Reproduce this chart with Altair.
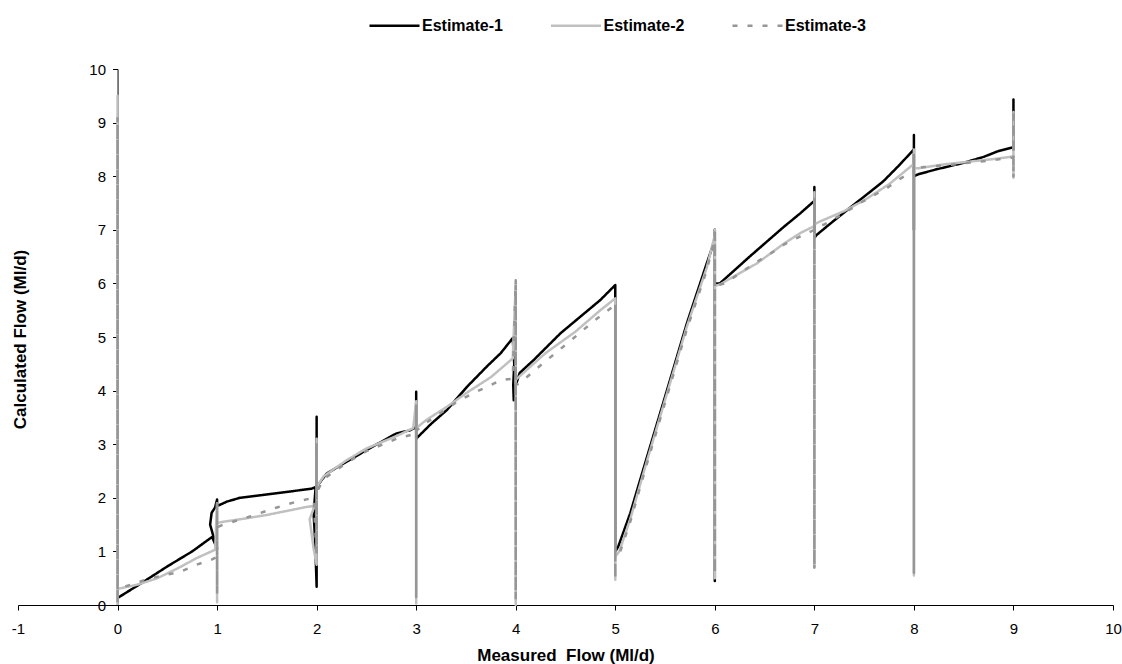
import altair as alt
import pandas as pd

series_names = ["Estimate-1", "Estimate-2", "Estimate-3"]
series_colors = ["#000000", "#c0c0c0", "#969696"]
series_dashes = [[1, 0], [1, 0], [5, 10]]

x_ticks = list(range(-1, 11))
y_ticks = list(range(0, 11))

e1_x = [0, 0.25, 0.5, 0.75, 0.95, 1.0, 0.96, 0.93, 0.945, 0.98, 1.0, 1.0, 1.03,
        1.1, 1.23, 1.45, 1.7, 1.95, 1.99, 1.97, 1.985, 2.0, 2.0, 2.0,
        2.05, 2.1, 2.27, 2.5, 2.8, 2.94, 3.0, 3.0, 3.0,
        3.02, 3.15, 3.31, 3.51, 3.71, 3.85, 3.97, 3.985, 3.975, 3.98, 4.0,
        4.04, 4.18, 4.45, 4.65, 4.85, 5.0, 5.0,
        5.03, 5.15, 5.32, 5.52, 5.72, 5.92, 6.0, 6.0, 6.0, 6.0,
        6.05, 6.35, 6.69, 6.86, 7.0, 7.0, 7.0,
        7.02, 7.15, 7.33, 7.5, 7.69, 7.85, 8.0, 8.0, 8.0, 8.0,
        8.05, 8.23, 8.5, 8.7, 8.85, 9.0, 9.0, 9.0, 9.0]
e1_y = [0.13, 0.42, 0.72, 1.0, 1.27, 1.05, 1.3, 1.5, 1.72, 1.82, 1.97, 1.85, 1.87,
        1.93, 2.0, 2.05, 2.11, 2.17, 2.2, 1.7, 1.2, 0.34, 3.51, 2.2,
        2.33, 2.45, 2.64, 2.89, 3.2, 3.26, 3.32, 3.98, 3.1,
        3.14, 3.38, 3.64, 4.07, 4.45, 4.7, 4.98, 4.5, 4.1, 3.82, 4.1,
        4.33, 4.57, 5.07, 5.38, 5.69, 5.97, 1.0,
        1.09, 1.71, 2.77, 4.01, 5.26, 6.38, 6.81, 7.0, 0.45, 6.0,
        6.0, 6.5, 7.05, 7.31, 7.54, 7.8, 6.85,
        6.9, 7.1, 7.37, 7.62, 7.9, 8.2, 8.5, 8.77, 7.0, 8.0,
        8.04, 8.13, 8.25, 8.36, 8.47, 8.54, 9.43, 8.5, 9.3]

e2_x = [0, 0, 0, 0.2, 0.4, 0.6, 0.8, 0.98, 1.0, 1.0, 1.0,
        1.05, 1.2, 1.5, 1.9, 1.98, 1.93, 1.97, 2.0, 2.0, 2.0,
        2.07, 2.3, 2.5, 2.8, 2.97, 3.0, 3.0, 3.0,
        3.1, 3.31, 3.5, 3.75, 3.97, 4.0, 4.0, 4.0,
        4.04, 4.3, 4.6, 4.85, 5.0, 5.0, 5.0, 5.0,
        5.04, 5.15, 5.32, 5.52, 5.72, 5.92, 6.0, 6.0, 6.0, 6.0,
        6.05, 6.42, 6.7, 6.86, 7.0, 7.0, 7.0, 7.0,
        7.05, 7.3, 7.5, 7.75, 8.0, 8.0, 8.0, 8.0,
        8.05, 8.3, 8.6, 8.85, 9.0, 9.0, 9.0, 9.0]
e2_y = [0.0, 9.5, 0.3, 0.38, 0.5, 0.68, 0.88, 1.03, 1.9, 0.05, 1.53,
        1.55, 1.59, 1.68, 1.83, 1.85, 1.6, 1.05, 0.75, 3.1, 2.2,
        2.4, 2.7, 2.92, 3.15, 3.3, 3.8, 0.03, 3.3,
        3.45, 3.7, 3.95, 4.25, 4.6, 6.0, 0.0, 4.2,
        4.27, 4.7, 5.1, 5.5, 5.72, 0.47, 5.6, 0.9,
        1.0, 1.6, 2.7, 3.95, 5.2, 6.3, 6.9, 7.0, 0.5, 5.95,
        5.98, 6.37, 6.75, 6.94, 7.07, 7.7, 0.7, 7.1,
        7.15, 7.35, 7.55, 7.85, 8.23, 8.5, 0.55, 8.15,
        8.15, 8.22, 8.28, 8.33, 8.37, 9.2, 7.97, 8.4]

e3_x = [0, 0, 0, 0, 0, 0, 0, 0, 0,
        0.2, 0.33, 0.63, 0.79, 0.95,
        1, 1, 1, 1, 1, 1, 1, 1,
        1.05, 1.33, 1.6, 1.8, 1.97,
        2, 2, 2, 2, 2, 2, 2,
        2.07, 2.3, 2.5, 2.8,
        3, 3, 3, 3, 3, 3, 3, 3,
        3.1, 3.41, 3.57, 3.71, 3.86, 3.97,
        4, 4, 4, 4, 4, 4, 4,
        4.04, 4.3, 4.55, 4.78,
        5, 5, 5, 5, 5, 5, 5, 5,
        5.05, 5.15, 5.32, 5.52, 5.72, 5.92,
        6, 6, 6, 6, 6, 6, 6, 6,
        6.1, 6.42, 6.57, 6.7, 6.85,
        7, 7, 7, 7, 7, 7, 7, 7,
        7.1, 7.29, 7.46, 7.73, 7.86,
        8, 8, 8, 8, 8, 8, 8, 8,
        8.1, 8.4, 8.7,
        9, 9, 9, 9, 9, 9]
e3_y = [0.05, 9.1, 0.15, 8.9, 0.1, 9.0, 0.2, 8.95, 0.3,
        0.42, 0.5, 0.62, 0.75, 0.85,
        0.9, 0.2, 1.9, 0.25, 1.85, 0.22, 1.88, 1.45,
        1.49, 1.65, 1.82, 1.93, 2.0,
        0.9, 3.0, 1.0, 2.95, 0.95, 2.98, 2.1,
        2.35, 2.65, 2.87, 3.1,
        3.2, 3.75, 0.1, 3.7, 0.15, 3.72, 0.12, 3.25,
        3.4, 3.79, 3.95, 4.07, 4.2, 4.22,
        6.06, 0.1, 5.95, 0.15, 6.0, 0.12, 4.1,
        4.14, 4.55, 4.93, 5.29,
        5.6, 0.5, 5.55, 0.55, 5.58, 0.52, 5.6, 0.95,
        1.0, 1.55, 2.65, 3.9, 5.15, 6.25,
        6.85, 6.95, 0.6, 6.9, 0.65, 6.92, 0.62, 5.95,
        6.0, 6.4, 6.57, 6.73, 6.87,
        7.0, 7.6, 0.7, 7.55, 0.75, 7.58, 0.72, 7.05,
        7.1, 7.3, 7.5, 7.78, 7.95,
        8.1, 8.4, 0.6, 8.35, 0.65, 8.38, 0.62, 8.15,
        8.17, 8.22, 8.28,
        8.35, 9.15, 8.0, 9.1, 8.05, 8.35]

rows = []
for name, xs, ys in zip(series_names, [e1_x, e2_x, e3_x], [e1_y, e2_y, e3_y]):
    for i, (xv, yv) in enumerate(zip(xs, ys)):
        rows.append({"series": name, "measured": xv, "calculated": yv, "idx": i})
df = pd.DataFrame(rows)

FONT = "Liberation Sans"

color_scale = alt.Scale(domain=series_names, range=series_colors)
dash_scale = alt.Scale(domain=series_names, range=series_dashes)

x_enc = alt.X(
    "measured:Q",
    scale=alt.Scale(domain=[-1, 10], nice=False, zero=False),
    axis=alt.Axis(
        values=x_ticks, labelExpr="'' + datum.value", grid=False, tickSize=5,
        labelPadding=11,
        labelFont=FONT, labelFontSize=15, labelColor="black",
        domainColor="black", tickColor="black", labelFlush=False,
        title="Measured\u00a0 Flow (Ml/d)", titleFont=FONT, titleFontSize=17,
        titleFontWeight="bold", titleColor="black",
        titleBaseline="alphabetic", titleY=55,
    ),
)
y_enc = alt.Y(
    "calculated:Q",
    scale=alt.Scale(domain=[0, 10], nice=False, zero=False),
    axis=alt.Axis(
        values=y_ticks, labelExpr="'' + datum.value", grid=False, tickSize=5,
        labelPadding=7, offset=-99.55,
        labelFont=FONT, labelFontSize=15, labelColor="black",
        domainColor="black", tickColor="black", labelFlush=False,
        title="Calculated Flow (Ml/d)", titleFont=FONT, titleFontSize=17,
        titleFontWeight="bold", titleColor="black",
        titleAngle=270, titleAlign="center", titleBaseline="alphabetic",
        titleX=-92, titleY=270,
    ),
)

layers = []
for name in series_names:
    layers.append(
        alt.Chart(df)
        .transform_filter(alt.datum.series == name)
        .mark_line(strokeWidth=2.5, strokeJoin="round")
        .encode(
            x=x_enc,
            y=y_enc,
            color=alt.Color("series:N", scale=color_scale, title=None),
            strokeDash=alt.StrokeDash("series:N", scale=dash_scale, title=None),
            order="idx:Q",
        )
    )

chart = (
    alt.layer(*layers)
    .properties(
        width=1095,
        height=536,
        autosize=alt.AutoSizeParams(type="none"),
        padding={"left": 18, "top": 69, "right": 9, "bottom": 59},
        background="white",
    )
    .configure_view(stroke=None)
    .configure_legend(
        orient="none", legendX=350, legendY=-70, direction="horizontal",
        symbolType="stroke", symbolSize=2500, symbolStrokeWidth=2.5,
        labelFont=FONT, labelFontSize=16, labelFontWeight="bold",
        labelColor="black", labelOffset=1, columnPadding=42.5, padding=0,
    )
)

chart.save("out.html", embed_options={"renderer": "svg", "actions": False})
